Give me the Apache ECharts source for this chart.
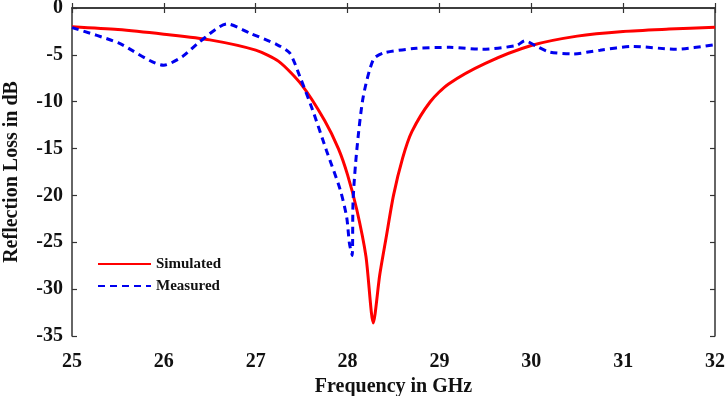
<!DOCTYPE html>
<html>
<head>
<meta charset="utf-8">
<script src="https://cdn.jsdelivr.net/npm/echarts@6/dist/echarts.min.js"></script>
<style>
  html, body { margin: 0; padding: 0; background: #fff; }
  #box { width: 726px; height: 396px; }
</style>
</head>
<body>
<div id="box"></div>
<script>
// simulated curve
const simFreq = [25, 25.5, 26, 26.5, 27, 27.25, 27.5, 27.75, 27.9, 28.0, 28.1, 28.2, 28.28, 28.35, 28.42, 28.5, 28.6, 28.7, 28.9, 29.1, 29.5, 30, 30.5, 31, 31.5, 32];
const simLoss = [-2.0, -2.3, -2.8, -3.4, -4.5, -5.7, -8.2, -12.0, -15.0, -17.8, -21.5, -26.5, -33.6, -28.5, -24.5, -20.0, -16.0, -13.2, -10.0, -8.1, -5.9, -4.0, -3.0, -2.5, -2.25, -2.05];
// measured curve
const measFreq = [25, 25.5, 26.0, 26.2, 26.39, 26.69, 26.94, 27.23, 27.37, 27.48, 27.62, 27.77, 27.92, 27.99, 28.02, 28.05, 28.06, 28.1, 28.17, 28.28, 28.39, 28.75, 29.11, 29.47, 29.84, 29.93, 30.06, 30.2, 30.45, 30.75, 31.1, 31.58, 32];
const measLoss = [-2.1, -3.7, -6.1, -5.2, -3.6, -1.7, -2.7, -3.9, -4.8, -7.3, -10.9, -15.2, -19.4, -22.3, -25.1, -26.4, -20.5, -15.2, -9.5, -5.5, -4.8, -4.3, -4.2, -4.4, -4.0, -3.5, -4.1, -4.7, -4.9, -4.5, -4.1, -4.4, -3.9];
const xTicks = [25, 26, 27, 28, 29, 30, 31, 32];
const yTicks = [0, -5, -10, -15, -20, -25, -30, -35];

const font = "Liberation Serif";
const pair = (xs, ys) => xs.map((x, i) => [x, ys[i]]);

let chart = echarts.init(document.getElementById("box"));
const axisLine = { show: true, lineStyle: { color: "#333", width: 1.5 } };
const tick = { show: true, inside: true, length: 5, lineStyle: { color: "#333", width: 1.2 } };

chart.setOption({
  animation: false,
  grid: { left: 72, right: 11, top: 8, bottom: 60, containLabel: false, outerBoundsMode: "none" },
  legend: {
    left: 92,
    top: 251,
    orient: "vertical",
    itemWidth: 53,
    itemHeight: 20,
    itemGap: 6,
    itemStyle: { opacity: 0 },
    textStyle: { fontFamily: font, fontWeight: "bold", fontSize: 15, color: "#111" },
    data: ["Simulated", "Measured"],
  },
  xAxis: [
    {
      type: "value", min: 25, max: 32, interval: 1,
      name: "Frequency in GHz", nameLocation: "middle", nameGap: 40,
      nameTextStyle: { fontFamily: font, fontWeight: "bold", fontSize: 20, color: "#111" },
      axisLine: axisLine, axisTick: tick, splitLine: { show: false },
      axisLabel: {
        fontFamily: font, fontWeight: "bold", fontSize: 20, color: "#111", margin: 16,
        formatter: (v) => (xTicks.includes(v) ? String(v) : ""),
      },
    },
    {
      type: "value", min: 25, max: 32, interval: 1, position: "top",
      axisLine: axisLine, axisTick: tick, axisLabel: { show: false }, splitLine: { show: false },
    },
  ],
  yAxis: [
    {
      type: "value", min: -35, max: 0, interval: 5,
      name: "Reflection Loss in dB", nameLocation: "middle", nameGap: 50,
      nameTextStyle: { fontFamily: font, fontWeight: "bold", fontSize: 20, color: "#111" },
      axisLine: axisLine, axisTick: tick, splitLine: { show: false },
      axisLabel: {
        fontFamily: font, fontWeight: "bold", fontSize: 20, color: "#111", margin: 9,
        formatter: (v) => (yTicks.includes(v) ? String(v) : ""),
      },
    },
    {
      type: "value", min: -35, max: 0, interval: 5, position: "right",
      axisLine: axisLine, axisTick: tick, axisLabel: { show: false }, splitLine: { show: false },
    },
  ],
  series: [
    {
      name: "Simulated",
      type: "line",
      data: pair(simFreq, simLoss),
      showSymbol: false,
      symbol: "none",
      smooth: 0.25,
      color: "#ff0000",
      lineStyle: { color: "#ff0000", width: 3 },
    },
    {
      name: "Measured",
      type: "line",
      data: pair(measFreq, measLoss),
      showSymbol: false,
      symbol: "none",
      smooth: 0.25,
      color: "#0000ee",
      lineStyle: { color: "#0000ee", width: 3, type: [7, 5] },
    },
  ],
});
</script>
</body>
</html>
